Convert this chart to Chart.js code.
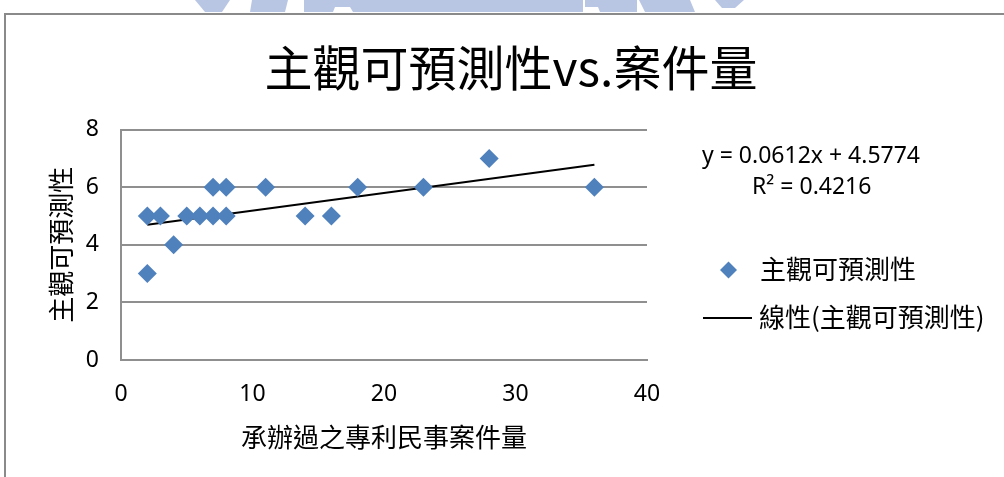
<!DOCTYPE html>
<html>
<head>
<meta charset="utf-8">
<script src="https://cdn.jsdelivr.net/npm/chart.js@4/dist/chart.umd.min.js"></script>
<style>
  html, body { margin: 0; padding: 0; background: #fff; }
  #wrap { width: 1004px; height: 477px; position: relative; }
</style>
</head>
<body>
<div id="wrap"><canvas id="chartScatter" width="1004" height="477"></canvas></div>
<script>
(function () {
    'use strict';

    // data
    const caseCounts    = [2, 2, 3, 4, 5, 6, 7, 7, 8, 8, 11, 14, 16, 18, 23, 28, 36];
    const predictScores = [3, 5, 5, 4, 5, 5, 5, 6, 6, 5, 6, 5, 5, 6, 6, 7, 6];
    const trendX = [2, 36];
    const trendY = [4.70, 6.78];
    const xTicks = [0, 10, 20, 30, 40];
    const yTicks = [0, 2, 4, 6, 8];

    const titleText  = '主觀可預測性vs.案件量';
    const xTitle     = '承辦過之專利民事案件量';
    const yTitle     = '主觀可預測性';
    const seriesName = '主觀可預測性';
    const trendName  = '線性(主觀可預測性)';
    const eqLines    = ['y = 0.0612x + 4.5774', 'R² = 0.4216'];

    const BLUE  = '#4F81BD';
    const GRID  = '#8f8f8f';
    const FONT  = "'Noto Sans', 'Noto Sans CJK TC', sans-serif";
    const CJK   = "'Noto Sans CJK TC', 'Noto Sans', sans-serif";

    // page frame + faint watermark strip at the very top
    const frame = {
        id: 'frame',
        beforeDraw(chart) {
            const c = chart.ctx;
            c.save();
            c.fillStyle = '#fff';
            c.fillRect(0, 0, chart.width, chart.height);
            c.fillStyle = '#b8c6e4';
            const blobs = [
                [[195, 0], [230, 0], [222, 12], [205, 12]],
                [[252, 0], [288, 0], [285, 12], [250, 12]],
                [[304, 0], [583, 0], [583, 12], [353, 12], [350, 7], [335, 7], [333, 12], [304, 12]],
                [[585, 0], [637, 0], [637, 12], [600, 12], [598, 7], [585, 7]],
                [[639, 0], [690, 0], [695, 12], [645, 12]],
                [[715, 0], [744, 0], [735, 8], [722, 8]]
            ];
            blobs.forEach(p => {
                c.beginPath();
                c.moveTo(p[0][0], p[0][1]);
                p.slice(1).forEach(q => c.lineTo(q[0], q[1]));
                c.closePath();
                c.fill();
            });
            c.strokeStyle = '#8a8a8a';
            c.lineWidth = 2;
            c.beginPath();
            c.moveTo(5, chart.height);
            c.lineTo(5, 14);
            c.lineTo(chart.width, 14);
            c.stroke();
            c.restore();
        }
    };

    const sideText = {
        id: 'sideText',
        afterDraw(chart) {
            const c = chart.ctx;
            c.save();
            c.fillStyle = '#000';
            c.textBaseline = 'middle';
            c.textAlign = 'left';
            c.font = '23px ' + FONT;
            c.fillText(eqLines[0], 702, 156);
            c.fillText(eqLines[1], 752, 187);

            // legend
            const ds = chart.data.datasets;
            c.fillStyle = BLUE;
            c.beginPath();
            c.moveTo(720, 270);
            c.lineTo(728.5, 261.5);
            c.lineTo(737, 270);
            c.lineTo(728.5, 278.5);
            c.closePath();
            c.fill();
            c.strokeStyle = '#000';
            c.lineWidth = 2;
            c.beginPath();
            c.moveTo(703, 318);
            c.lineTo(752, 318);
            c.stroke();
            c.fillStyle = '#000';
            c.font = '26px ' + CJK;
            c.fillText(ds[0].label, 760, 269);
            c.fillText(ds[1].label, 759, 317);
            c.restore();
        }
    };

    new Chart(document.getElementById('chartScatter'), {
        type: 'scatter',
        data: {
            datasets: [{
                label: seriesName,
                data: caseCounts.map((x, i) => ({ x: x, y: predictScores[i] })),
                pointStyle: 'rectRot',
                pointRadius: 9.5,
                pointHoverRadius: 9.5,
                backgroundColor: BLUE,
                borderColor: BLUE,
                borderWidth: 0
            }, {
                type: 'line',
                label: trendName,
                data: trendX.map((x, i) => ({ x: x, y: trendY[i] })),
                borderColor: '#000',
                borderWidth: 2,
                pointRadius: 0,
                fill: false
            }]
        },
        options: {
            responsive: false,
            animation: false,
            layout: { padding: { top: 0, left: 18, right: 0, bottom: 0 } },
            plugins: {
                legend: { display: false },
                tooltip: { enabled: false },
                title: {
                    display: true,
                    text: titleText,
                    color: '#000',
                    font: { family: CJK, size: 48, weight: 'normal', lineHeight: 1.2 },
                    padding: { top: 39, bottom: 33 }
                }
            },
            scales: {
                x: {
                    type: 'linear',
                    min: 0, max: 40,
                    afterBuildTicks(s) { s.ticks = xTicks.map(v => ({ value: v })); },
                    afterFit(s) { s.height = 117; },
                    grid: { display: false, drawTicks: false },
                    border: { display: true, color: GRID, width: 2 },
                    ticks: { color: '#000', padding: 21, font: { family: FONT, size: 23 } },
                    title: {
                        display: true, text: xTitle, color: '#000',
                        font: { family: CJK, size: 26 },
                        padding: { top: 0, bottom: 24 }
                    }
                },
                y: {
                    min: 0, max: 8,
                    afterBuildTicks(s) { s.ticks = yTicks.map(v => ({ value: v })); },
                    afterFit(s) { s.width = 103; },
                    grid: { color: GRID, lineWidth: 2, drawTicks: false },
                    border: { display: true, color: GRID, width: 2 },
                    ticks: { color: '#000', padding: 22, font: { family: FONT, size: 23 } },
                    title: {
                        display: true, text: yTitle, color: '#000',
                        font: { family: CJK, size: 26 },
                        padding: { top: 28, bottom: 0 }
                    }
                },
                // empty right-hand axis that holds the room for equation and legend
                side: {
                    type: 'linear',
                    position: 'right',
                    display: true,
                    afterFit(s) { s.width = 357; },
                    grid: { display: false, drawTicks: false },
                    border: { display: false },
                    ticks: { display: false }
                }
            }
        },
        plugins: [frame, sideText]
    });
})();
</script>
</body>
</html>
